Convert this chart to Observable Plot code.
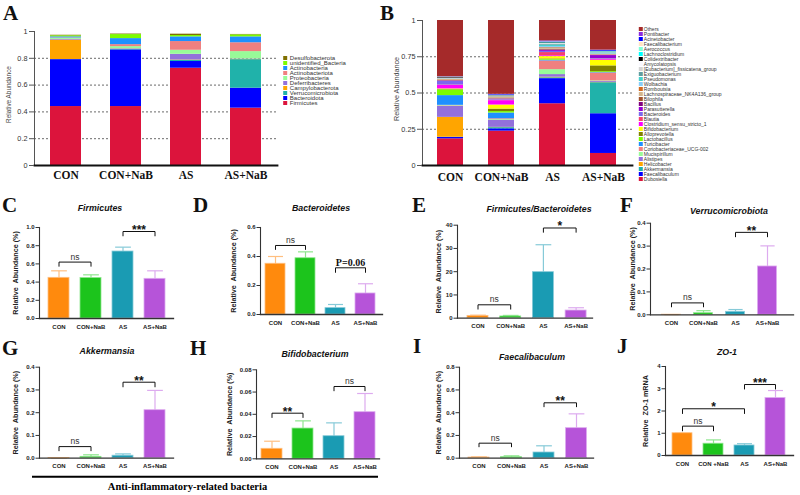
<!DOCTYPE html>
<html><head><meta charset="utf-8">
<script src="https://cdn.jsdelivr.net/npm/d3@7"></script>
<script src="https://cdn.jsdelivr.net/npm/@observablehq/plot@0.6"></script>
<style>
body{margin:0;background:#fff}
#fig{position:relative;width:800px;height:495px;overflow:hidden;background:#fff}
#fig svg{position:absolute;left:0;top:0}
</style></head><body><div id="fig"></div><script>
// ---------------- DATA ----------------
const groups = ["CON", "CON+NaB", "AS", "AS+NaB"];
const groupsJ = ["CON", "CON +NaB", "AS", "AS+NaB"];

// Panel A – phyla, listed bottom to top of the stack
const phyla = ["Firmicutes","Bacteroidota","Verrucomicrobiota","Campylobacterota","Deferribacteres","Proteobacteria","Actinobacteriota","Actinobacteria","unidentified_Bacteria","Desulfobacterota"];
const phylaCON    = [0.440,0.350,0.001,0.145,0.005,0.008,0.003,0.008,0.008,0.004];
const phylaCONNaB = [0.440,0.423,0.004,0.002,0.003,0.015,0.015,0.045,0.030,0.004];
const phylaAS     = [0.726,0.050,0.008,0.003,0.043,0.030,0.065,0.035,0.010,0.010];
const phylaASNaB  = [0.428,0.149,0.213,0.002,0.003,0.055,0.066,0.044,0.015,0.003];
const phylaTicks = [0, 0.2, 0.4, 0.6, 0.8, 1];
const phylaGrid = [0.2, 0.4, 0.6, 0.8];

// Panel B – genera, listed bottom to top of the stack
const genera = ["Dubosiella","Faecalibaculum","Akkermansia","Helicobacter","Alistipes","Mucispirillum","Coriobacteriaceae_UCG-002","Turicibacter","Lactobacillus","Alloprevotella","Bifidobacterium","Clostridium_sensu_stricto_1","Blautia","Bacteroides","Parasutterella","Bacillus","Bilophila","Lachnospiraceae_NK4A136_group","Romboutsia","Wolbachia","Pseudomonas","Exiguobacterium","[Eubacterium]_fissicatena_group","Amycolatopsis","Colidextribacter","Lachnoclostridium","Aerococcus","Faecalibacterium","Acinetobacter","Pontibacter","Others"];
const generaCON    = [0.184,0.009,0.002,0.137,0.076,0.004,0.003,0.067,0.040,0.002,0.004,0.024,0.003,0.025,0.003,0.001,0.002,0.006,0.002,0.002,0.001,0.001,0.004,0.001,0.004,0.001,0.001,0.001,0.001,0.001,0.388];
const generaCONNaB = [0.237,0.016,0.008,0.002,0.048,0.005,0.006,0.040,0.010,0.017,0.028,0.030,0.004,0.005,0.002,0.001,0.002,0.010,0.002,0.001,0.001,0.001,0.003,0.001,0.002,0.001,0.001,0.001,0.004,0.002,0.509];
const generaAS     = [0.426,0.173,0.006,0.004,0.018,0.034,0.060,0.005,0.005,0.004,0.016,0.006,0.022,0.008,0.007,0.003,0.004,0.006,0.005,0.008,0.010,0.006,0.004,0.002,0.004,0.003,0.002,0.002,0.004,0.002,0.141];
const generaASNaB  = [0.083,0.274,0.214,0.002,0.006,0.004,0.055,0.003,0.006,0.040,0.038,0.005,0.004,0.004,0.020,0.002,0.002,0.003,0.002,0.003,0.006,0.002,0.002,0.001,0.002,0.002,0.002,0.001,0.006,0.002,0.204];
const generaTicks = [0, 0.25, 0.5, 0.75, 1];
const generaGrid = [0.25, 0.5, 0.75];

// Panels C–J: group means and SD
const firmMean = [0.447,0.445,0.736,0.436], firmSD = [0.077,0.035,0.048,0.088];
const bactMean = [0.350,0.388,0.044,0.145], bactSD = [0.050,0.044,0.025,0.067];
const fbMean   = [1.0,0.75,19.8,3.3],       fbSD   = [0.3,0.45,11.8,1.2];
const verrMean = [0.0005,0.007,0.013,0.211], verrSD = [0.0005,0.011,0.010,0.090];
const akkMean  = [0.0005,0.006,0.011,0.211], akkSD  = [0.0005,0.009,0.008,0.087];
const bifMean  = [0.0090,0.0272,0.0203,0.0419], bifSD = [0.0068,0.0069,0.0120,0.0168];
const faeMean  = [0.006,0.009,0.050,0.264], faeSD  = [0.006,0.012,0.059,0.126];
const zoMean   = [1.0,0.53,0.45,2.58],      zoSD   = [0,0.17,0.08,0.34];

// significance brackets: groups a–b, bar height h, leg end, label
const firmBr = [{a:0,b:1,h:0.62,leg:0.57,t:"ns"},{a:2,b:3,h:0.956,leg:0.904,t:"***"}];
const bactBr = [{a:0,b:1,h:0.476,leg:0.446,t:"ns"},{a:2,b:3,h:0.322,leg:0.288,t:"P=0.06"}];
const fbBr   = [{a:0,b:1,h:5.76,leg:3.74,t:"ns"},{a:2,b:3,h:38.8,leg:36.8,t:"*"}];
const verrBr = [{a:0,b:1,h:0.052,leg:0.033,t:"ns"},{a:2,b:3,h:0.36,leg:0.339,t:"**"}];
const akkBr  = [{a:0,b:1,h:0.051,leg:0.031,t:"ns"},{a:2,b:3,h:0.334,leg:0.312,t:"**"}];
const bifBr  = [{a:0,b:1,h:0.041,leg:0.0368,t:"**"},{a:2,b:3,h:0.065,leg:0.0608,t:"ns"}];
const faeBr  = [{a:0,b:1,h:0.132,leg:0.097,t:"ns"},{a:2,b:3,h:0.487,leg:0.449,t:"**"}];
const zoBr   = [{a:0,b:1,h:1.32,leg:1.09,t:"ns"},{a:0,b:2,h:2.1,leg:1.87,t:"*"},{a:2,b:3,h:3.19,leg:2.97,t:"***"}];

const ticks01 = [0,0.2,0.4,0.6,0.8,1.0], ticks06 = [0,0.2,0.4,0.6], ticks40 = [0,10,20,30,40];
const ticks04 = [0,0.1,0.2,0.3,0.4], ticks008 = [0,0.02,0.04,0.06,0.08], ticks08 = [0,0.2,0.4,0.6,0.8], ticks4 = [0,1,2,3,4];

// ---------------- STYLES ----------------
const phylaColors = ["#dc143c","#0000ff","#20b2aa","#ffa500","#9370db","#98fb98","#f08080","#1e90ff","#7cfc00","#807000"];
const generaColors = ["#dc143c","#0000ff","#20b2aa","#ffa500","#9370db","#98fb98","#f08080","#1e90ff","#7cfc00","#808000","#ffff00","#ff00ff","#f5426c","#7b68ee","#9400d3","#800080","#a0522d","#d2b48c","#d2691e","#87cefa","#48d1cc","#5f9ea0","#d3d3d3","#f8f8ff","#000000","#00ffff","#7fffd4","#ffe4c4","#0000ff","#8a2be2","#a52a2a"];
const barFills  = ["#ff8a0d","#1cc41c","#1a9bb3","#b654d9"];
const barLights = ["#ffbf80","#8ee68e","#86cad8","#ddabef"];
const SANS = "'Liberation Sans', Arial, sans-serif";
const SERIF = "'Liberation Serif', 'Times New Roman', serif";

const fig = document.getElementById("fig");
function frameOpts(f){ return {width:800,height:495,marginLeft:f.left,marginRight:800-f.right,marginTop:f.top,marginBottom:495-f.bottom}; }

function stackedPanel(p) {
  const rows = [];
  p.values.forEach((vals, gi) => p.series.forEach((s, si) => rows.push({group: groups[gi], series: s, value: vals[si]})));
  const pl = Plot.plot({
    ...frameOpts(p.f),
    style: {background: "transparent", fontFamily: SANS, color: "#333"},
    x: {type: "band", domain: groups, paddingInner: p.pi, paddingOuter: p.po},
    y: {domain: [0, 1]},
    color: {domain: p.series, range: p.colors},
    marks: [
      Plot.gridY(p.grid, {stroke: "#444", strokeOpacity: 1, strokeDasharray: "2,2", strokeWidth: 0.8}),
      Plot.barY(rows, {x: "group", y: "value", fill: "series"}),
      Plot.frame({anchor: "left", stroke: "#555", strokeWidth: 1}),
      Plot.frame({anchor: "bottom", stroke: "#111", strokeWidth: 1.8}),
      Plot.axisY({ticks: p.ticks, tickFormat: d => String(d), tickSize: 5, tickPadding: 2, fontSize: 7.3, label: null, stroke: "#555", fill: "#333"}),
      Plot.axisX({tickSize: 0, tickPadding: p.xpad, fontSize: 11.5, fontWeight: "bold", fontFamily: SERIF, fill: "#111", label: null}),
      Plot.text([p.ylabel], {frameAnchor: "left", dx: p.ylabelX - p.f.left, dy: p.ylabelDy, rotate: -90, fontSize: p.ylabelSize, fill: "#444", textAnchor: "middle"})
    ]
  });
  fig.appendChild(pl);
}

function legendPanel(p) {
  // names listed top to bottom
  const names = p.series.slice().reverse();
  const step = (p.y1 - p.y0) / (names.length - 1);
  const pl = Plot.plot({
    width: 800, height: 495,
    marginLeft: p.x, marginRight: 800 - p.x - 110,
    marginTop: p.y0 - step / 2, marginBottom: 495 - (p.y1 + step / 2),
    style: {background: "transparent", fontFamily: SANS},
    y: {type: "band", domain: names, padding: 0, axis: null},
    color: {domain: p.series, range: p.colors},
    marks: [
      Plot.dot(names, {y: d => d, frameAnchor: "left", dx: p.sw / 2, symbol: "square", r: p.sw / Math.sqrt(Math.PI), fill: d => d, stroke: "none"}),
      Plot.text(names, {y: d => d, frameAnchor: "left", dx: p.tx, textAnchor: "start", fontSize: p.fs, fill: "#333"})
    ]
  });
  fig.appendChild(pl);
}

function barPanel(p) {
  const lo = -(p.c0 - p.f.left) / p.step, hi = (p.f.right - p.c0) / p.step;
  const hw = p.bw / 2 / p.step, cap = hw * 0.75;
  const rows = p.means.map((m, i) => ({i, mean: m, top: m + p.sds[i]}));
  const labelMarks = p.brackets.map(b => {
    const base = {x: d => (d.a + d.b) / 2, y: "h", text: "t", textAnchor: "middle", lineAnchor: "bottom", fill: "#111"};
    if (b.t === "ns") return Plot.text([b], {...base, fontSize: 8.5, dy: -2.5, fill: "#333"});
    if (b.t.startsWith("P")) return Plot.text([b], {...base, fontSize: 10, fontWeight: "bold", fontFamily: SERIF, dy: -2});
    return Plot.text([b], {...base, fontSize: 12, fontWeight: "bold", dy: 2.5});
  });
  const pl = Plot.plot({
    ...frameOpts(p.f),
    style: {background: "transparent", fontFamily: SANS, color: "#222"},
    x: {domain: [lo, hi]},
    y: {domain: [0, p.ymax]},
    color: {type: "identity"},
    marks: [
      Plot.link(rows, {x1: "i", x2: "i", y1: "mean", y2: "top", stroke: d => barLights[d.i], strokeWidth: 1.2}),
      Plot.link(rows, {x1: d => d.i - cap, x2: d => d.i + cap, y1: "top", y2: "top", stroke: d => barLights[d.i], strokeWidth: 1.2}),
      Plot.rect(rows, {x1: d => d.i - hw, x2: d => d.i + hw, y1: 0, y2: "mean", fill: d => barFills[d.i], stroke: d => barLights[d.i], strokeWidth: 0.8}),
      Plot.link(p.brackets, {x1: "a", x2: "b", y1: "h", y2: "h", stroke: "#111", strokeWidth: 1}),
      Plot.link(p.brackets, {x1: "a", x2: "a", y1: "leg", y2: "h", stroke: "#111", strokeWidth: 1}),
      Plot.link(p.brackets, {x1: "b", x2: "b", y1: "leg", y2: "h", stroke: "#111", strokeWidth: 1}),
      ...labelMarks,
      Plot.frame({anchor: "left", stroke: "#333", strokeWidth: 1.1}),
      Plot.frame({anchor: "bottom", stroke: "#333", strokeWidth: 1.3}),
      Plot.axisY({ticks: p.ticks, tickFormat: p.fmt, tickSize: 3.5, tickPadding: 1.5, fontSize: 6, fontWeight: "bold", label: null, stroke: "#333"}),
      Plot.axisX({ticks: [0, 1, 2, 3], tickFormat: i => p.cats[i], tickSize: 0, tickPadding: 6, fontSize: 6, fontWeight: "bold", label: null}),
      Plot.text([p.ylabel], {frameAnchor: "left", dx: p.ylabelX - p.f.left, rotate: -90, fontSize: 7.2, fontWeight: "bold", fill: "#222", textAnchor: "middle"})
    ]
  });
  fig.appendChild(pl);
}

// ---------------- PANELS ----------------
stackedPanel({f:{left:34,right:277,top:31,bottom:165}, pi:0.49, po:0.246, series: phyla, colors: phylaColors,
  values: [phylaCON, phylaCONNaB, phylaAS, phylaASNaB], ticks: phylaTicks, grid: phylaGrid, xpad: 5.5,
  ylabel: "Relative Abundance", ylabelX: 8, ylabelDy: -4, ylabelSize: 6.4});
legendPanel({series: phyla, colors: phylaColors, x: 282.7, y0: 54.7, y1: 104.3, sw: 4, tx: 6.6, fs: 6});

stackedPanel({f:{left:422,right:632,top:20,bottom:165}, pi:0.486, po:0.267, series: genera, colors: generaColors,
  values: [generaCON, generaCONNaB, generaAS, generaASNaB], ticks: generaTicks, grid: generaGrid, xpad: 7,
  ylabel: "Relative Abundance", ylabelX: 396, ylabelDy: -4, ylabelSize: 7.2});
legendPanel({series: genera, colors: generaColors, x: 638.3, y0: 15.7, y1: 190.3, sw: 4, tx: 5, fs: 5});

const yAb = "Relative  Abundance (%)";
barPanel({f:{left:39,right:173,top:227,bottom:318}, c0:58.5, step:32, bw:21, ymax:1, ticks:ticks01, fmt:d3.format(".1f"), means:firmMean, sds:firmSD, brackets:firmBr, cats:groups, ylabel:yAb, ylabelX:15});
barPanel({f:{left:260,right:382,top:227,bottom:314}, c0:275, step:30, bw:20, ymax:0.6, ticks:ticks06, fmt:d3.format(".1f"), means:bactMean, sds:bactSD, brackets:bactBr, cats:groups, ylabel:yAb, ylabelX:233});
barPanel({f:{left:457,right:592,top:224.7,bottom:317.7}, c0:477.5, step:32.7, bw:21, ymax:40, ticks:ticks40, fmt:d3.format("d"), means:fbMean, sds:fbSD, brackets:fbBr, cats:groups, ylabel:yAb, ylabelX:438});
barPanel({f:{left:650,right:793,top:222.7,bottom:314.3}, c0:671, step:32, bw:19, ymax:0.4, ticks:ticks04, fmt:d3.format(".1f"), means:verrMean, sds:verrSD, brackets:verrBr, cats:groups, ylabel:yAb, ylabelX:632});
barPanel({f:{left:39,right:173,top:366.7,bottom:457.7}, c0:58.5, step:32, bw:21, ymax:0.4, ticks:ticks04, fmt:d3.format(".1f"), means:akkMean, sds:akkSD, brackets:akkBr, cats:groups, ylabel:yAb, ylabelX:15});
barPanel({f:{left:256,right:379,top:369.3,bottom:458.3}, c0:271.5, step:31, bw:21, ymax:0.08, ticks:ticks008, fmt:d3.format(".2f"), means:bifMean, sds:bifSD, brackets:bifBr, cats:groups, ylabel:yAb, ylabelX:229});
barPanel({f:{left:459,right:593,top:366.7,bottom:457.7}, c0:478.5, step:32.5, bw:21, ymax:0.8, ticks:ticks08, fmt:d3.format(".1f"), means:faeMean, sds:faeSD, brackets:faeBr, cats:groups, ylabel:yAb, ylabelX:438});
barPanel({f:{left:665,right:793,top:366,bottom:455}, c0:682, step:31, bw:20, ymax:4, ticks:ticks4, fmt:d3.format("d"), means:zoMean, sds:zoSD, brackets:zoBr, cats:groupsJ, ylabel:"Relative  ZO-1 mRNA", ylabelX:645});

// ---------------- ANNOTATIONS ----------------
const letters = [["A",3,20],["B",380,20],["C",2,212],["D",193,212],["E",412,212],["F",620,212],["G",2,355],["H",190,355],["I",413,353],["J",617,353]];
const titles = [["Firmicutes",100,211],["Bacteroidetes",321,211],["Firmicutes/Bacteroidetes",539,212],["Verrucomicrobiota",729,214],["Akkermansia",107,354],["Bifidobacterium",315,357],["Faecalibaculum",532,360],["ZO-1",727,355]];
const ann = d3.select(fig).append("svg").attr("width", 800).attr("height", 495).style("white-space", "pre");
ann.selectAll("text.l").data(letters).join("text").attr("x", d => d[1]).attr("y", d => d[2])
  .attr("font-family", SERIF).attr("font-weight", "bold").attr("font-size", 21).attr("fill", "#111").text(d => d[0]);
ann.selectAll("text.t").data(titles).join("text").attr("x", d => d[1]).attr("y", d => d[2]).attr("text-anchor", "middle")
  .attr("font-family", SANS).attr("font-weight", "bold").attr("font-style", "italic").attr("font-size", 8.8).attr("fill", "#111").text(d => d[0]);
ann.append("line").attr("x1", 32).attr("x2", 378).attr("y1", 476.7).attr("y2", 476.7).attr("stroke", "#000").attr("stroke-width", 2);
ann.append("text").attr("x", 187.5).attr("y", 490).attr("text-anchor", "middle").attr("font-family", SERIF)
  .attr("font-weight", "bold").attr("font-size", 10.5).attr("fill", "#000").text("Anti-inflammatory-related  bacteria");
</script></body></html>
